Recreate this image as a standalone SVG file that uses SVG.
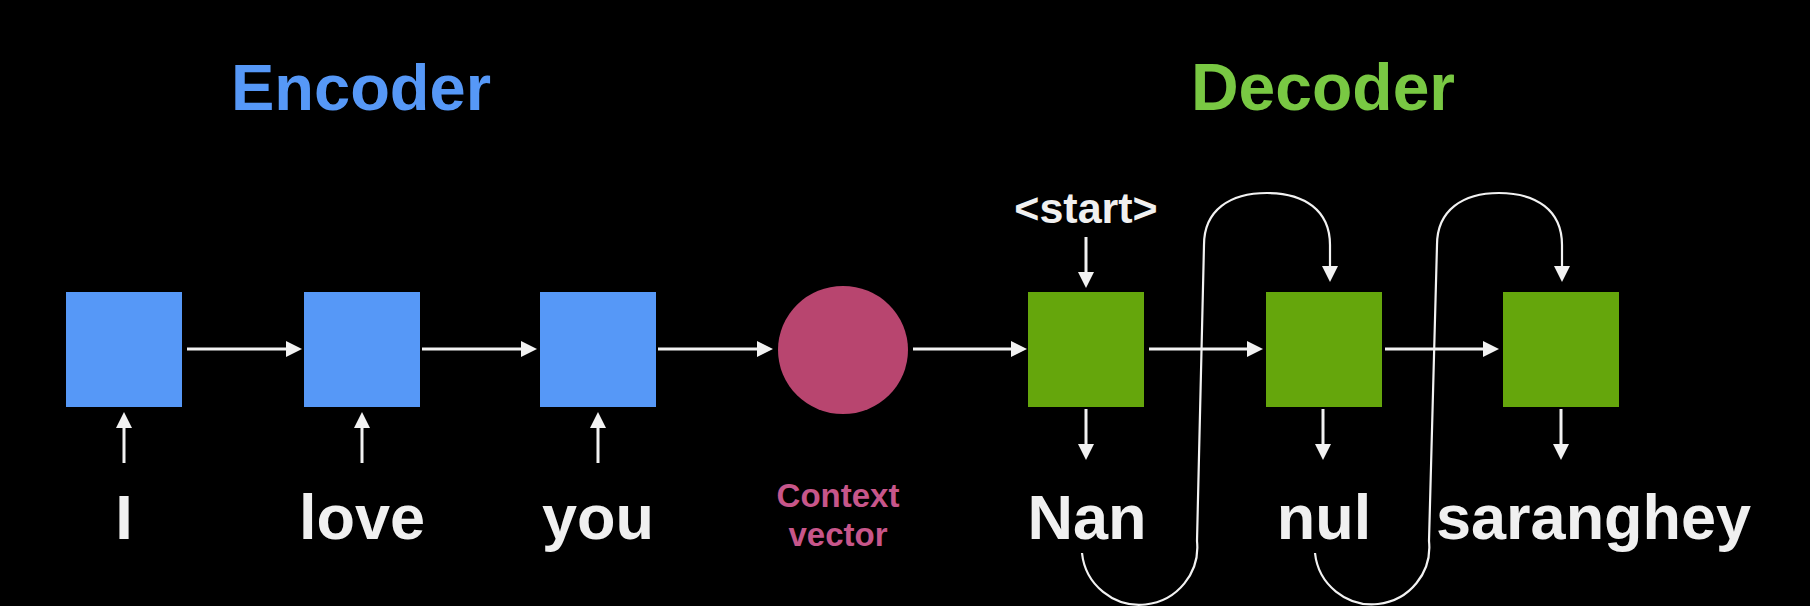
<svg xmlns="http://www.w3.org/2000/svg" width="1810" height="606" viewBox="0 0 1810 606">
<style>
.t{font-family:"Liberation Sans",Arial,Helvetica,sans-serif;font-weight:bold;text-anchor:middle}
.w{fill:#f0f0f0;font-size:63px}
.enc{fill:#5698f7}
.dec{fill:#65a60c}
.c{stroke:#f2f2f2;stroke-width:3;fill:none}
.loop{stroke:#f2f2f2;stroke-width:2.2;fill:none}
</style>
<defs>
<marker id="ah" viewBox="0 0 16 16" refX="3" refY="8" markerWidth="16" markerHeight="16" markerUnits="userSpaceOnUse" orient="auto">
<path d="M0,0 L16,8 L0,16 z" fill="#f2f2f2"/>
</marker>
</defs>
<rect width="1810" height="606" fill="#000"/>
<g id="titles">
<text class="t" x="361" y="110" font-size="65" fill="#5698f7">Encoder</text>
<text class="t" x="1323" y="110" font-size="66" fill="#79c843">Decoder</text>
</g>
<g id="enc1"><rect class="enc" x="66" y="292" width="116" height="115"/></g>
<g id="enc2"><rect class="enc" x="304" y="292" width="116" height="115"/></g>
<g id="enc3"><rect class="enc" x="540" y="292" width="116" height="115"/></g>
<g id="context"><ellipse cx="843" cy="350" rx="65" ry="64" fill="#b8456f"/>
<text class="t" x="838" y="507" font-size="33" fill="#c7568a">Context</text>
<text class="t" x="838" y="546" font-size="33" fill="#c7568a">vector</text></g>
<g id="dec1"><rect class="dec" x="1028" y="292" width="116" height="115"/></g>
<g id="dec2"><rect class="dec" x="1266" y="292" width="116" height="115"/></g>
<g id="dec3"><rect class="dec" x="1503" y="292" width="116" height="115"/></g>
<g id="words">
<text class="t w" x="124" y="539">I</text>
<text class="t w" x="362" y="539">love</text>
<text class="t w" x="598" y="539">you</text>
<text class="t w" x="1087" y="539">Nan</text>
<text class="t w" x="1324" y="539">nul</text>
<text class="t w" x="1436" y="539" style="text-anchor:start">saranghey</text>
<text class="t" x="1086" y="223" font-size="43" fill="#f0f0f0">&lt;start&gt;</text>
</g>
<g id="connectors">
<line class="c" x1="187" y1="349" x2="289" y2="349" marker-end="url(#ah)"/>
<line class="c" x1="422" y1="349" x2="524" y2="349" marker-end="url(#ah)"/>
<line class="c" x1="658" y1="349" x2="760" y2="349" marker-end="url(#ah)"/>
<line class="c" x1="913" y1="349" x2="1014" y2="349" marker-end="url(#ah)"/>
<line class="c" x1="1149" y1="349" x2="1250" y2="349" marker-end="url(#ah)"/>
<line class="c" x1="1385" y1="349" x2="1486" y2="349" marker-end="url(#ah)"/>
<line class="c" x1="124" y1="463" x2="124" y2="425" marker-end="url(#ah)"/>
<line class="c" x1="362" y1="463" x2="362" y2="425" marker-end="url(#ah)"/>
<line class="c" x1="598" y1="463" x2="598" y2="425" marker-end="url(#ah)"/>
<line class="c" x1="1086" y1="237" x2="1086" y2="275" marker-end="url(#ah)"/>
<line class="c" x1="1086" y1="409" x2="1086" y2="447" marker-end="url(#ah)"/>
<line class="c" x1="1323" y1="409" x2="1323" y2="447" marker-end="url(#ah)"/>
<line class="c" x1="1561" y1="409" x2="1561" y2="447" marker-end="url(#ah)"/>
<path class="loop" d="M1082 553 A57 57 0 0 0 1197 541 L1204 245 C1204 210 1230 193 1267 193 C1304 193 1330 210 1330 245 L1330 269" marker-end="url(#ah)"/>
<path class="loop" d="M1315 553 A57 57 0 0 0 1429 541 L1437 245 C1437 210 1463 193 1499 193 C1536 193 1562 210 1562 245 L1562 269" marker-end="url(#ah)"/>
</g>
</svg>
